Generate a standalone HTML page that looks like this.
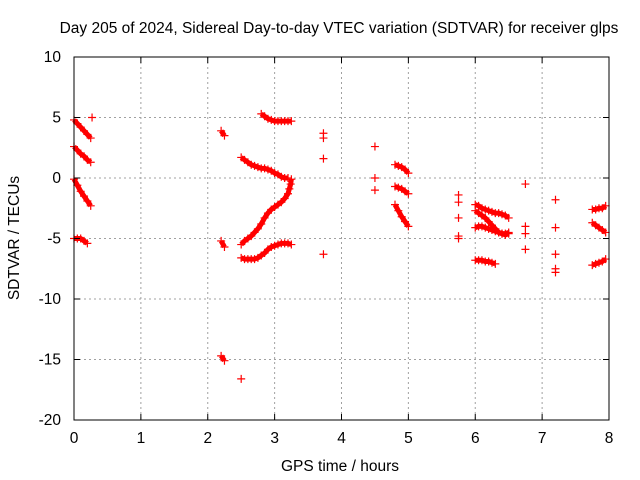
<!DOCTYPE html>
<html><head><meta charset="utf-8"><style>
body{margin:0;background:#fff;}
svg{display:block;font-family:"Liberation Sans",sans-serif;}
</style></head><body>
<svg id="chart" width="640" height="480">
<rect width="640" height="480" fill="#fff"/>
<text x="339" y="33" font-size="15.5" text-anchor="middle">Day 205 of 2024, Sidereal Day-to-day VTEC variation (SDTVAR) for receiver glps</text>
<text x="340" y="471" font-size="15.5" text-anchor="middle">GPS time / hours</text>
<text transform="translate(19,238) rotate(-90)" font-size="15.5" text-anchor="middle">SDTVAR / TECUs</text>
<g id="grid"></g><g id="series"></g><g id="axes"></g>
</svg>
<script>
const xTicks=[0,1,2,3,4,5,6,7,8];
const yTicks=[10,5,0,-5,-10,-15,-20];
// tracks: each is a list of [hour, SDTVAR]
const track1=[[0,4.8],[0.05,4.5],[0.1,4.2],[0.15,3.9],[0.2,3.6],[0.25,3.3]];
const track2=[[0,2.6],[0.05,2.3],[0.1,2.0],[0.15,1.8],[0.2,1.5],[0.25,1.3]];
const track3=[[0,-0.1],[0.05,-0.6],[0.1,-1.1],[0.15,-1.5],[0.2,-1.9],[0.25,-2.3]];
const track4=[[0,-5.0],[0.05,-5.0],[0.1,-5.0],[0.15,-5.2],[0.2,-5.4]];
const track5=[[2.2,3.9],[2.25,3.5]];
const track6=[[2.2,-5.2],[2.25,-5.7]];
const track7=[[2.2,-14.7],[2.25,-15.1]];
const track8=[[2.5,1.7],[2.55,1.5],[2.6,1.3],[2.65,1.1],[2.7,1.0],[2.75,0.9],[2.8,0.8],[2.85,0.8],[2.9,0.7],[2.95,0.6],[3.0,0.4],[3.05,0.3],[3.1,0.1],[3.15,0.0],[3.2,0.0]];
const track9=[[2.5,-5.5],[2.55,-5.2],[2.6,-5.0],[2.65,-4.8],[2.7,-4.5],[2.75,-4.2],[2.8,-3.8],[2.85,-3.3],[2.9,-2.9],[2.95,-2.6],[3.0,-2.4],[3.05,-2.2],[3.1,-2.0],[3.15,-1.7],[3.2,-1.3],[3.22,-0.9],[3.24,-0.5],[3.25,-0.1]];
const track10=[[2.5,-6.6],[2.55,-6.7],[2.6,-6.7],[2.65,-6.7],[2.7,-6.7],[2.75,-6.6],[2.8,-6.4],[2.85,-6.2],[2.9,-5.9],[2.95,-5.7],[3.0,-5.6],[3.05,-5.5],[3.1,-5.4],[3.15,-5.4],[3.2,-5.4],[3.25,-5.5]];
const track11=[[2.8,5.3],[2.85,5.1],[2.9,4.9],[2.95,4.8],[3.0,4.7],[3.05,4.7],[3.1,4.7],[3.15,4.7],[3.2,4.7],[3.25,4.7]];
const track12=[[4.8,1.1],[4.85,1.0],[4.9,0.9],[4.95,0.7],[5.0,0.4]];
const track13=[[4.8,-0.7],[4.85,-0.8],[4.9,-0.9],[4.95,-1.1],[5.0,-1.3]];
const track14=[[4.8,-2.2],[4.85,-2.7],[4.9,-3.2],[4.95,-3.6],[5.0,-4.0]];
const track15=[[6.0,-2.2],[6.05,-2.3],[6.1,-2.5],[6.15,-2.6],[6.2,-2.7],[6.25,-2.8],[6.3,-2.9],[6.35,-2.9],[6.4,-3.0],[6.45,-3.1],[6.5,-3.3]];
const track16=[[6.0,-2.7],[6.05,-2.9],[6.1,-3.1],[6.15,-3.3],[6.2,-3.6],[6.25,-3.9],[6.3,-4.2],[6.35,-4.5],[6.4,-4.6],[6.45,-4.6],[6.5,-4.5]];
const track17=[[6.0,-4.1],[6.05,-4.0],[6.1,-4.0],[6.15,-4.1],[6.2,-4.2],[6.25,-4.3],[6.3,-4.4],[6.35,-4.5],[6.4,-4.6],[6.45,-4.7],[6.5,-4.6]];
const track18=[[6.0,-6.8],[6.05,-6.8],[6.1,-6.8],[6.15,-6.9],[6.2,-6.9],[6.25,-7.0],[6.3,-7.1]];
const track19=[[7.75,-2.6],[7.8,-2.6],[7.85,-2.5],[7.9,-2.5],[7.95,-2.3]];
const track20=[[7.75,-3.7],[7.8,-3.9],[7.85,-4.1],[7.9,-4.3],[7.95,-4.5]];
const track21=[[7.75,-7.2],[7.8,-7.1],[7.85,-7.0],[7.9,-6.9],[7.95,-6.7]];
const tracks=[track1,track2,track3,track4,track5,track6,track7,track8,track9,track10,track11,track12,track13,track14,track15,track16,track17,track18,track19,track20,track21];
const isolated=[[0.27,5.0],[2.5,-16.6],[3.73,3.7],[3.73,3.3],[3.73,1.6],[3.73,-6.3],[4.5,2.6],[4.5,0.0],[4.5,-1.0],[5.75,-1.4],[5.75,-2.0],[5.75,-3.3],[5.75,-4.8],[5.75,-5.0],[6.75,-0.5],[6.75,-4.0],[6.75,-4.6],[6.75,-5.9],[7.2,-1.8],[7.2,-4.1],[7.2,-6.3],[7.2,-7.5],[7.2,-7.8]];

const X0=74,X1=609,Y0=57,Y1=420;
const sx=v=>X0+(v-0)/(8-0)*(X1-X0);
const sy=v=>Y0+(10-v)/(10-(-20))*(Y1-Y0);
const NS='http://www.w3.org/2000/svg';
function mk(tag,attrs,parent){const e=document.createElementNS(NS,tag);for(const k in attrs)e.setAttribute(k,attrs[k]);parent.appendChild(e);return e;}
const grid=document.getElementById('grid'),axes=document.getElementById('axes'),ser=document.getElementById('series');
xTicks.forEach(t=>{
 if(t>0&&t<8){const g=mk('line',{x1:sx(t),x2:sx(t),y1:Y0,y2:Y1,stroke:'#a0a0a0','stroke-dasharray':'2,3'},grid);
 
 }
 mk('line',{x1:sx(t),x2:sx(t),y1:Y1,y2:Y1-6,stroke:'#000'},axes);
 mk('line',{x1:sx(t),x2:sx(t),y1:Y0,y2:Y0+6,stroke:'#000'},axes);
 const l=mk('text',{x:sx(t),y:Y1+23,'font-size':15.5,'text-anchor':'middle'},axes);l.textContent=t;
 
 
});
yTicks.forEach(t=>{
 if(t>-20&&t<10){const g=mk('line',{x1:X0,x2:X1,y1:sy(t),y2:sy(t),stroke:'#a0a0a0','stroke-dasharray':'2,3'},grid);
 
 }
 mk('line',{x1:X0,x2:X0+6,y1:sy(t),y2:sy(t),stroke:'#000'},axes);
 mk('line',{x1:X1,x2:X1-6,y1:sy(t),y2:sy(t),stroke:'#000'},axes);
 const l=mk('text',{x:X0-13,y:sy(t)+5,'font-size':15.5,'text-anchor':'end'},axes);l.textContent=t;
 
 
});
const fr=mk('rect',{x:X0,y:Y0,width:X1-X0,height:Y1-Y0,fill:'none',stroke:'#000'},axes);


function plus(p){
 const x=sx(p[0]),y=sy(p[1]);
 const m=mk('path',{d:`M${x-4} ${y}h8M${x} ${y-4}v8`,stroke:'#f00','stroke-width':1.2},ser);
 
 
}
tracks.forEach(tr=>{
 const pl=mk('polyline',{points:tr.map(p=>sx(p[0])+','+sy(p[1])).join(' '),fill:'none',stroke:'#f00','stroke-width':5,'stroke-linejoin':'round'},ser);
 
 
 tr.forEach(plus);
});
isolated.forEach(plus);
</script>
</body></html>
